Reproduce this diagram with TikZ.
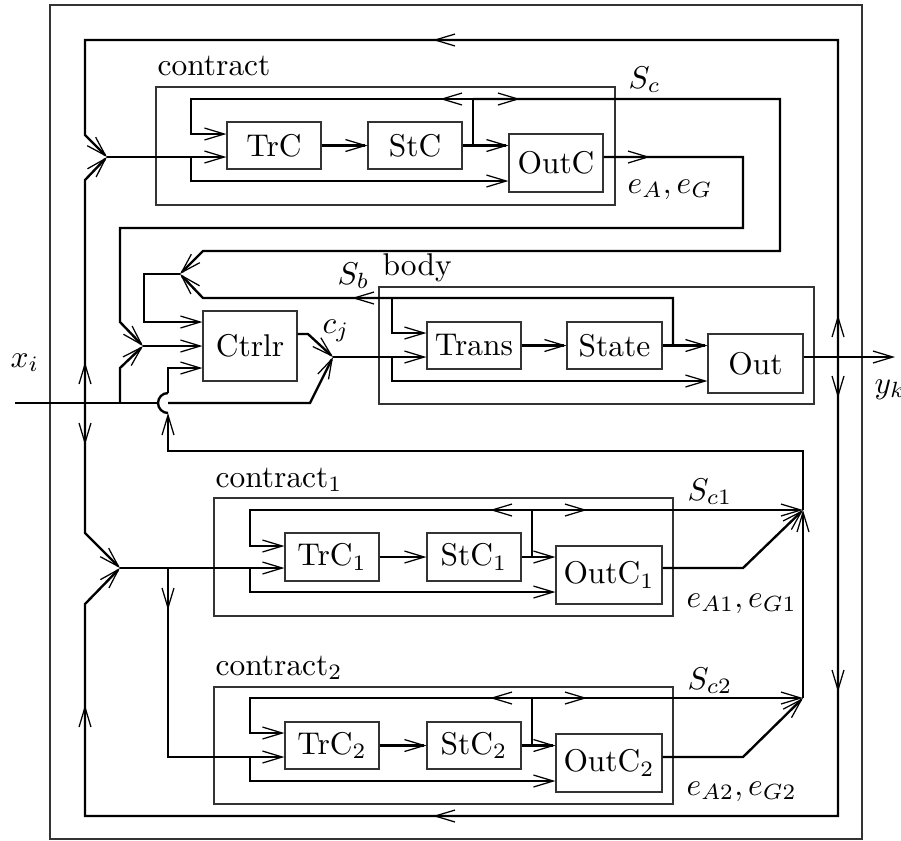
\documentclass[tikz,border=0pt]{standalone}
\usetikzlibrary{arrows.meta}
\tikzset{
  conn/.style={line width=0.75pt, line join=miter},
  arr/.style={conn, -{Straight Barb[length=6.3pt,width=3.8pt,line width=0.4pt]}},
  box/.style={draw=black!80, line width=0.35pt, inner sep=0pt},
  bsz/.style 2 args={minimum width=#1*0.318pt, minimum height=#2*0.318pt},
  frame/.style={draw=black!80, line width=0.35pt},
  lbl/.style={anchor=base west, inner sep=0pt},
}
\newcommand\tipat[3]{\draw[arr] (#1,#2) ++(#3+180:3pt) -- (#1,#2);}
\begin{document}
\begin{tikzpicture}[x=0.318pt,y=-0.318pt]
\useasboundingbox (0,0) rectangle (901,840);
% frame
\draw[frame] (50,5) rectangle (862,839);
% containers
\node[box,bsz={459}{118}] (contract) at (385.5,146) {};
\node[box,bsz={435}{117}] (body) at (596.5,345.5) {};
\node[box,bsz={459}{118}] (contract1) at (443.5,557) {};
\node[box,bsz={459}{117}] (contract2) at (443.5,745.5) {};
% blocks
\node[box,bsz={94}{47}] (TrC) at (274,145.5) {TrC};
\node[box,bsz={94}{47}] (StC) at (415,145.5) {StC};
\node[box,bsz={94}{58}] (OutC) at (556,163) {OutC};
\node[box,bsz={94}{70}] (Ctrlr) at (250,346) {Ctrlr};
\node[box,bsz={94}{47}] (Trans) at (474,345.5) {Trans};
\node[box,bsz={95}{47}] (State) at (614.5,345.5) {State};
\node[box,bsz={95}{59}] (Out) at (755.5,363.5) {Out};
\node[box,bsz={94}{48}] (TrC1) at (332,557) {TrC$_1$};
\node[box,bsz={94}{48}] (StC1) at (474,557) {StC$_1$};
\node[box,bsz={106}{58}] (OutC1) at (609,575) {OutC$_1$};
\node[box,bsz={94}{47}] (TrC2) at (332,745.5) {TrC$_2$};
\node[box,bsz={94}{47}] (StC2) at (474,745.5) {StC$_2$};
\node[box,bsz={106}{58}] (OutC2) at (609,763) {OutC$_2$};
% junctions
\coordinate (J1) at (107,157);
\coordinate (J2) at (143,346);
\coordinate (J3) at (180,274);
\coordinate (J4) at (333,357);
\coordinate (J5) at (120,568);
\coordinate (J6) at (803,510);
\coordinate (J7) at (803,698);
\coordinate (Xin) at (15,403);
\coordinate (Yout) at (895,357);
% ---- contract
\draw[arr] (TrC.east) -- (StC.west);
\draw[arr] (StC.east) -- (StC.east -| OutC.west);
\draw[conn] (473,145.5) -- (473,99);
\draw[arr] (473,99) -- (191,99) -- (191,134) -- (TrC.west |- 0,134);
\draw[arr] (473,99) -- (780,99) -- (780,251) -- (203,251) -- (J3);
\tipat{440}{99}{180}
\tipat{520}{99}{0}
\draw[arr] (J1) -- (TrC.west |- J1);
\draw[arr] (191,157) -- (191,181) -- (OutC.west |- 0,181);
\draw[arr] (OutC.east |- 0,157) -- (743,157) -- (743,228) -- (120,228) -- (120,322) -- (J2);
\tipat{650}{157}{0}
% ---- big loop
\draw[arr] (838,357) -- (838,40) -- (85,40) -- (85,135) -- (J1);
\tipat{838}{315}{90}
\tipat{433}{40}{180}
\draw[arr] (838,357) -- (838,816) -- (85,816) -- (85,604) -- (J5);
\tipat{838}{398}{-90}
\tipat{838}{692}{-90}
\tipat{433}{816}{180}
\tipat{85}{705}{90}
% ---- input x_i
\draw[conn] (Xin) -- (158,403);
\draw[arr] (168,403) -- (310,403) -- (J4);
\draw[arr] (85,403) -- (85,180) -- (J1);
\tipat{85}{362}{90}
\draw[arr] (85,403) -- (85,533) -- (J5);
\tipat{85}{445}{-90}
\draw[arr] (120,403) -- (120,368) -- (J2);
% ---- controller
\draw[arr] (J2) -- (J2 -| Ctrlr.west);
\draw[arr] (J3) -- (144,274) -- (144,322) -- (Ctrlr.west |- 0,322);
\draw[arr] (Ctrlr.east |- 0,334) -- (308,334) -- (J4);
% ---- body
\draw[arr] (J4) -- (J4 -| Trans.west);
\draw[arr] (392,357) -- (392,381) -- (Out.west |- 0,381);
\draw[arr] (Trans.east) -- (State.west);
\draw[arr] (State.east) -- (State.east -| Out.west);
\draw[arr] (392,298) -- (392,333) -- (Trans.west |- 0,333);
\draw[arr] (673,345.5) -- (673,298) -- (203,298) -- (J3);
\tipat{352}{298}{180}
\draw[arr] (Out.east |- 0,357) -- (Yout);
% ---- contract 1
\draw[arr] (J5) -- (TrC1.west |- J5);
\draw[arr] (168,568) -- (168,757) -- (TrC2.west |- 0,757);
\tipat{168}{610}{-90}
\draw[arr] (250,568) -- (250,592) -- (OutC1.west |- 0,592);
\draw[arr] (532,510) -- (250,510) -- (250,546) -- (TrC1.west |- 0,546);
\draw[arr] (532,510) -- (J6);
\tipat{490}{510}{180}
\tipat{587}{510}{0}
\draw[arr] (TrC1.east) -- (StC1.west);
\draw[arr] (StC1.east) -- (StC1.east -| OutC1.west);
\draw[conn] (532,557) -- (532,510);
\draw[arr] (OutC1.east |- 0,568) -- (743,568) -- (J6);
% ---- contract 2
\draw[arr] (250,757) -- (250,781) -- (OutC2.west |- 0,781);
\draw[arr] (532,698) -- (250,698) -- (250,733) -- (TrC2.west |- 0,733);
\draw[arr] (532,698) -- (J7);
\tipat{490}{698}{180}
\tipat{587}{698}{0}
\draw[arr] (TrC2.east) -- (StC2.west);
\draw[arr] (StC2.east) -- (StC2.east -| OutC2.west);
\draw[conn] (532,745.5) -- (532,698);
\draw[arr] (OutC2.east |- 0,757) -- (743,757) -- (J7);
\draw[arr] (J7) -- (J6);
\draw[arr] (J6) -- (803,451) -- (168,451) -- (168,413);
\draw[conn] (168,413) arc[start angle=-90, end angle=-270, radius=3.18pt];
\draw[arr] (168,393) -- (168,368) -- (Ctrlr.west |- 0,368);
% ---- labels
\node[lbl] (lcontract) at (157,75) {contract};
\node[lbl] (lbody) at (382,275) {body};
\node[lbl] (lc1) at (215,487) {contract$_1$};
\node[lbl] (lc2) at (215,675) {contract$_2$};
\node[lbl] (lSc) at (628,88) {$S_c$};
\node[lbl] (leA) at (627,193) {$e_A,e_G$};
\node[lbl] (lSb) at (337,284) {$S_b$};
\node[lbl] (lcj) at (322,333) {$c_j$};
\node[lbl] (lxi) at (10,367) {$x_i$};
\node[lbl] (lyk) at (874,393) {$y_k$};
\node[lbl] (lSc1) at (687,500) {$S_{c1}$};
\node[lbl] (leA1) at (686,607) {$e_{A1},e_{G1}$};
\node[lbl] (lSc2) at (687,689) {$S_{c2}$};
\node[lbl] (leA2) at (686,795) {$e_{A2},e_{G2}$};
\end{tikzpicture}
\end{document}
